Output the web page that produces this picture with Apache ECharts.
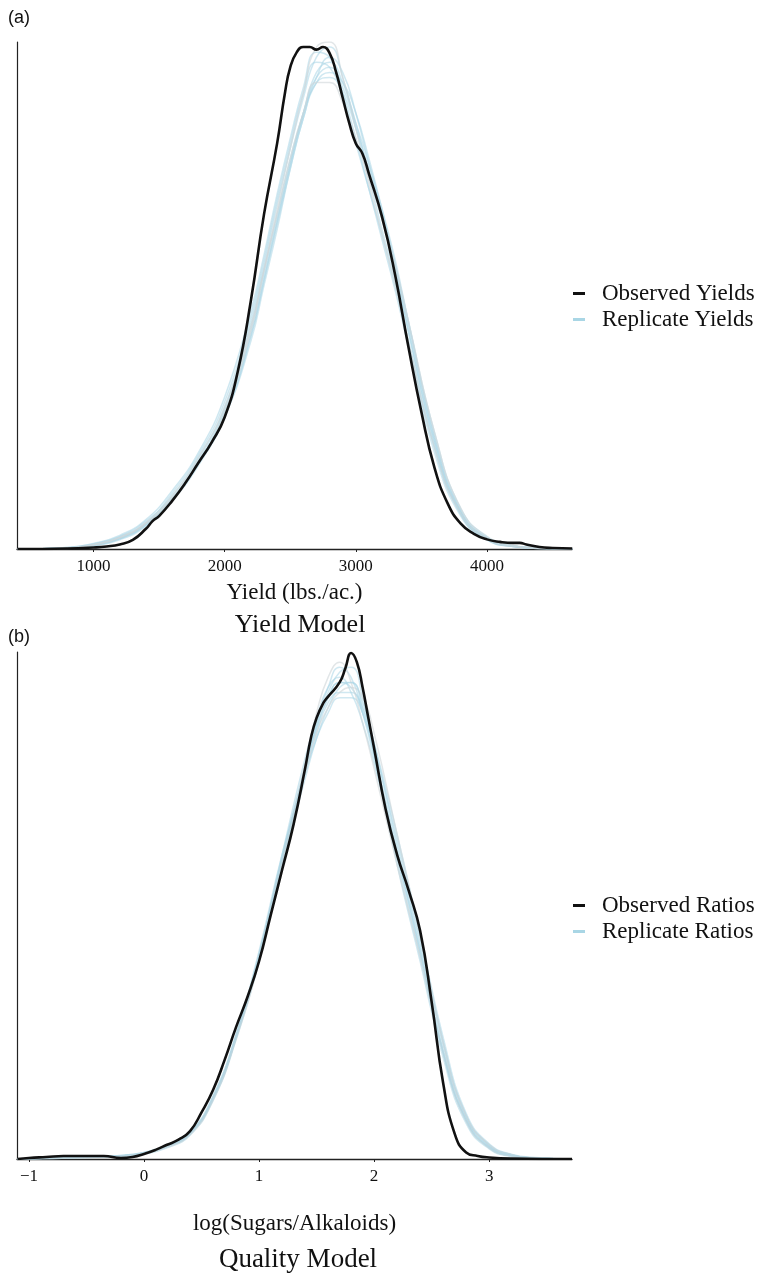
<!DOCTYPE html>
<html>
<head>
<meta charset="utf-8">
<script src="https://cdn.jsdelivr.net/npm/echarts@6/dist/echarts.min.js"></script>
<style>
  html, body { margin: 0; padding: 0; background: #ffffff; }
  #chart { width: 763px; height: 1274px; }
</style>
</head>
<body>
<div id="chart"></div>
<script>
// ---- Panel (a): yield densities (relative density, 1 = top of panel) ----
const yieldObsX = [420, 800, 1000, 1100, 1200, 1300, 1400, 1450, 1500, 1600, 1700, 1800, 1900, 2000,
  2100, 2200, 2300, 2400, 2460, 2500, 2550, 2600, 2650, 2700, 2750, 2800, 2850, 2900, 2950, 3000,
  3050, 3100, 3200, 3300, 3400, 3500, 3600, 3700, 3800, 3900, 4000, 4100, 4200, 4250, 4300, 4400, 4500, 4650];
const yieldObsY = [0, 0.001, 0.003, 0.005, 0.009, 0.018, 0.04, 0.055, 0.065, 0.095, 0.13, 0.17, 0.21, 0.26,
  0.35, 0.49, 0.66, 0.80, 0.90, 0.95, 0.98, 0.99, 0.99, 0.985, 0.99, 0.978, 0.94, 0.89, 0.84, 0.80,
  0.78, 0.74, 0.655, 0.54, 0.40, 0.27, 0.16, 0.09, 0.05, 0.03, 0.019, 0.014, 0.012, 0.012, 0.009, 0.004, 0.002, 0.001];

const yieldRepX = [420, 800, 1000, 1200, 1400, 1600, 1800, 2000, 2200, 2300, 2400, 2500, 2600, 2700,
  2800, 2900, 3000, 3100, 3200, 3300, 3400, 3600, 3800, 4000, 4200, 4400, 4650];
const yieldRep1  = [0, 0.002, 0.008, 0.022, 0.05, 0.10, 0.17, 0.27, 0.43, 0.54, 0.65, 0.76, 0.86, 0.94, 0.96, 0.92, 0.84, 0.74, 0.65, 0.55, 0.43, 0.21, 0.07, 0.02, 0.006, 0.002, 0];
const yieldRep2  = [0, 0.003, 0.010, 0.025, 0.055, 0.105, 0.18, 0.28, 0.45, 0.56, 0.68, 0.79, 0.89, 0.97, 0.99, 0.93, 0.83, 0.73, 0.63, 0.53, 0.41, 0.20, 0.07, 0.02, 0.005, 0.001, 0];
const yieldRep3  = [0, 0.001, 0.006, 0.018, 0.045, 0.095, 0.165, 0.26, 0.41, 0.52, 0.63, 0.75, 0.85, 0.92, 0.93, 0.90, 0.83, 0.75, 0.66, 0.56, 0.45, 0.23, 0.08, 0.025, 0.007, 0.002, 0];
const yieldRep4  = [0, 0.002, 0.009, 0.024, 0.052, 0.11, 0.185, 0.29, 0.46, 0.57, 0.69, 0.80, 0.90, 0.96, 0.95, 0.89, 0.80, 0.71, 0.62, 0.52, 0.41, 0.20, 0.068, 0.018, 0.005, 0.001, 0];
const yieldRep5  = [0, 0.002, 0.007, 0.02, 0.048, 0.098, 0.17, 0.265, 0.42, 0.53, 0.64, 0.75, 0.85, 0.92, 0.94, 0.92, 0.86, 0.77, 0.67, 0.56, 0.44, 0.22, 0.075, 0.022, 0.006, 0.002, 0];
const yieldRep6  = [0, 0.003, 0.011, 0.027, 0.058, 0.115, 0.19, 0.30, 0.47, 0.58, 0.70, 0.81, 0.91, 0.98, 0.97, 0.90, 0.81, 0.71, 0.61, 0.51, 0.40, 0.19, 0.065, 0.018, 0.005, 0.001, 0];
const yieldRep7  = [0, 0.002, 0.008, 0.021, 0.05, 0.10, 0.175, 0.275, 0.44, 0.55, 0.66, 0.77, 0.86, 0.93, 0.97, 0.94, 0.86, 0.76, 0.66, 0.55, 0.43, 0.21, 0.072, 0.02, 0.006, 0.002, 0];
const yieldRep8  = [0, 0.001, 0.007, 0.02, 0.047, 0.097, 0.168, 0.26, 0.42, 0.53, 0.645, 0.76, 0.86, 0.93, 0.95, 0.91, 0.84, 0.76, 0.67, 0.57, 0.45, 0.22, 0.075, 0.022, 0.006, 0.002, 0];
const yieldRep9  = [0, 0.002, 0.009, 0.023, 0.052, 0.105, 0.18, 0.28, 0.44, 0.55, 0.66, 0.77, 0.86, 0.92, 0.92, 0.88, 0.81, 0.73, 0.65, 0.56, 0.45, 0.23, 0.08, 0.024, 0.007, 0.002, 0];
const yieldRep10 = [0, 0.002, 0.008, 0.022, 0.05, 0.10, 0.17, 0.27, 0.43, 0.55, 0.67, 0.79, 0.90, 0.99, 1.0, 0.93, 0.83, 0.72, 0.62, 0.52, 0.41, 0.20, 0.07, 0.02, 0.005, 0.001, 0];

// ---- Panel (b): log(Sugars/Alkaloids) densities ----
const ratioObsX = [-1.1, -1.0, -0.85, -0.7, -0.5, -0.35, -0.2, -0.1, 0, 0.1, 0.2, 0.3, 0.4, 0.5, 0.6, 0.7,
  0.8, 0.9, 1.0, 1.1, 1.2, 1.3, 1.4, 1.45, 1.5, 1.56, 1.6, 1.7, 1.75, 1.8, 1.85, 1.9, 1.95, 2.0, 2.1,
  2.2, 2.3, 2.4, 2.5, 2.6, 2.7, 2.8, 2.9, 3.0, 3.2, 3.72];
const ratioObsY = [0, 0.002, 0.004, 0.006, 0.006, 0.006, 0.002, 0.004, 0.010, 0.018, 0.028, 0.038, 0.055, 0.092,
  0.136, 0.195, 0.26, 0.32, 0.39, 0.48, 0.57, 0.66, 0.77, 0.83, 0.87, 0.90, 0.912, 0.94, 0.968, 0.998, 0.98, 0.93,
  0.87, 0.81, 0.69, 0.60, 0.53, 0.45, 0.31, 0.15, 0.05, 0.013, 0.006, 0.003, 0.001, 0];

const ratioRepX = [-1.1, -0.8, -0.5, -0.2, 0, 0.2, 0.4, 0.6, 0.8, 1.0, 1.2, 1.4, 1.5, 1.6, 1.7, 1.8, 1.9,
  2.0, 2.2, 2.4, 2.6, 2.8, 3.0, 3.2, 3.4, 3.72];
const ratioRep1  = [0, 0.002, 0.004, 0.006, 0.012, 0.025, 0.05, 0.12, 0.24, 0.40, 0.59, 0.77, 0.85, 0.91, 0.94, 0.93, 0.88, 0.80, 0.61, 0.42, 0.22, 0.08, 0.025, 0.007, 0.002, 0];
const ratioRep2  = [0, 0.001, 0.003, 0.005, 0.010, 0.022, 0.047, 0.115, 0.235, 0.39, 0.58, 0.77, 0.86, 0.93, 0.97, 0.95, 0.88, 0.79, 0.59, 0.40, 0.21, 0.075, 0.022, 0.006, 0.002, 0];
const ratioRep3  = [0, 0.002, 0.005, 0.007, 0.013, 0.027, 0.053, 0.125, 0.245, 0.41, 0.60, 0.76, 0.83, 0.88, 0.91, 0.91, 0.88, 0.81, 0.63, 0.44, 0.24, 0.09, 0.03, 0.009, 0.003, 0];
const ratioRep4  = [0, 0.002, 0.004, 0.006, 0.011, 0.024, 0.05, 0.12, 0.24, 0.40, 0.60, 0.79, 0.87, 0.93, 0.95, 0.92, 0.86, 0.78, 0.60, 0.41, 0.21, 0.075, 0.022, 0.006, 0.002, 0];
const ratioRep5  = [0, 0.001, 0.003, 0.006, 0.012, 0.026, 0.052, 0.118, 0.238, 0.395, 0.58, 0.75, 0.83, 0.89, 0.93, 0.94, 0.90, 0.82, 0.62, 0.43, 0.23, 0.085, 0.027, 0.008, 0.002, 0];
const ratioRep6  = [0, 0.002, 0.004, 0.006, 0.012, 0.025, 0.051, 0.122, 0.245, 0.405, 0.595, 0.775, 0.86, 0.92, 0.96, 0.97, 0.91, 0.80, 0.58, 0.39, 0.20, 0.07, 0.02, 0.005, 0.001, 0];
const ratioRep7  = [0, 0.002, 0.004, 0.007, 0.013, 0.026, 0.05, 0.118, 0.24, 0.40, 0.59, 0.76, 0.84, 0.90, 0.92, 0.92, 0.89, 0.82, 0.64, 0.44, 0.23, 0.085, 0.028, 0.008, 0.002, 0];
const ratioRep8  = [0, 0.001, 0.003, 0.005, 0.011, 0.023, 0.048, 0.116, 0.236, 0.39, 0.585, 0.78, 0.88, 0.95, 0.98, 0.94, 0.86, 0.77, 0.58, 0.40, 0.21, 0.075, 0.022, 0.006, 0.002, 0];
const ratioRep9  = [0, 0.002, 0.004, 0.006, 0.012, 0.025, 0.05, 0.12, 0.24, 0.40, 0.59, 0.76, 0.84, 0.89, 0.92, 0.93, 0.91, 0.84, 0.64, 0.44, 0.23, 0.085, 0.028, 0.008, 0.002, 0];
const ratioRep10 = [0, 0.002, 0.004, 0.006, 0.012, 0.025, 0.05, 0.12, 0.24, 0.40, 0.59, 0.77, 0.85, 0.91, 0.94, 0.94, 0.89, 0.80, 0.60, 0.41, 0.21, 0.078, 0.024, 0.007, 0.002, 0];

// ---- Axis ticks ----
const yieldTicks = [1000, 2000, 3000, 4000];
const ratioTicks = [-1, 0, 1, 2, 3];

const yieldReps = [yieldRep1, yieldRep2, yieldRep3, yieldRep4, yieldRep5, yieldRep6, yieldRep7, yieldRep8, yieldRep9, yieldRep10];
const ratioReps = [ratioRep1, ratioRep2, ratioRep3, ratioRep4, ratioRep5, ratioRep6, ratioRep7, ratioRep8, ratioRep9, ratioRep10];
// a few replicate draws come out greyish rather than blue
const greyYield = [8, 9];
const greyRatio = [7, 8];

const SERIF = '"Liberation Serif", "Times New Roman", serif';
const SANS = '"Liberation Sans", Arial, sans-serif';
const BLUE = '#a9d6e5';
const BLACK = '#111111';

const zip = (xs, ys) => xs.map((x, i) => [x, ys[i]]);

function replicateSeries(name, xs, reps, greys, axisIndex) {
  return reps.map((ys, i) => ({
    name: name,
    type: 'line',
    xAxisIndex: axisIndex,
    yAxisIndex: axisIndex,
    data: zip(xs, ys),
    smooth: true,
    showSymbol: false,
    silent: true,
    color: BLUE,
    lineStyle: {
      color: greys.includes(i) ? '#cfd6d8' : BLUE,
      width: 1.5,
      opacity: greys.includes(i) ? 0.6 : 0.55
    },
    z: 2
  }));
}

function observedSeries(name, xs, ys, axisIndex) {
  return {
    name: name,
    type: 'line',
    xAxisIndex: axisIndex,
    yAxisIndex: axisIndex,
    data: zip(xs, ys),
    smooth: true,
    showSymbol: false,
    silent: true,
    color: BLACK,
    lineStyle: { color: BLACK, width: 2.6 },
    z: 3
  };
}

function xAxisDef(gridIndex, min, max, ticks, name, nameGap) {
  return {
    type: 'value',
    gridIndex: gridIndex,
    min: min,
    max: max,
    name: name,
    nameLocation: 'middle',
    nameGap: nameGap,
    nameTextStyle: { fontFamily: SERIF, fontSize: 23, color: '#111' },
    axisLine: { show: true, onZero: false, lineStyle: { color: '#222', width: 1.3 } },
    axisTick: { show: true, length: 3, customValues: ticks, lineStyle: { color: '#222' } },
    axisLabel: {
      customValues: ticks,
      margin: 9,
      fontFamily: SERIF,
      fontSize: 17,
      color: '#111',
      formatter: v => String(v).replace('-', '\u2212')
    },
    splitLine: { show: false }
  };
}

function yAxisDef(gridIndex) {
  return {
    type: 'value',
    gridIndex: gridIndex,
    min: 0,
    max: 1,
    axisLine: { show: true, onZero: false, lineStyle: { color: '#222', width: 1.2 } },
    axisTick: { show: false },
    axisLabel: { show: false },
    splitLine: { show: false }
  };
}

function legendDef(top, names) {
  return {
    orient: 'vertical',
    left: 568,
    top: top,
    itemWidth: 12,
    itemHeight: 3,
    itemGap: 3,
    icon: 'rect',
    selectedMode: false,
    data: names,
    textStyle: { fontFamily: SERIF, fontSize: 23, color: '#111', padding: [0, 0, 0, 12] }
  };
}

const chart = echarts.init(document.getElementById('chart'), null, { renderer: 'canvas' });

chart.setOption({
  animation: false,
  backgroundColor: '#ffffff',
  title: [
    { text: '(a)', left: 3, top: 4, textStyle: { fontFamily: SANS, fontSize: 18, fontWeight: 'normal', color: '#111' } },
    { text: 'Yield Model', left: 295, textAlign: 'center', top: 607, textStyle: { fontFamily: SERIF, fontSize: 26, fontWeight: 'normal', color: '#111' } },
    { text: '(b)', left: 3, top: 623, textStyle: { fontFamily: SANS, fontSize: 18, fontWeight: 'normal', color: '#111' } },
    { text: 'Quality Model', left: 293, textAlign: 'center', top: 1241, textStyle: { fontFamily: SERIF, fontSize: 27, fontWeight: 'normal', color: '#111' } }
  ],
  legend: [
    legendDef(277, ['Observed Yields', 'Replicate Yields']),
    legendDef(889, ['Observed Ratios', 'Replicate Ratios'])
  ],
  grid: [
    { left: 17, top: 42, width: 555, height: 507 },
    { left: 17, top: 652, width: 555, height: 507 }
  ],
  xAxis: [
    xAxisDef(0, 417, 4648, yieldTicks, 'Yield (lbs./ac.)', 32),
    xAxisDef(1, -1.104, 3.72, ratioTicks, 'log(Sugars/Alkaloids)', 53)
  ],
  yAxis: [yAxisDef(0), yAxisDef(1)],
  series: [
    ...replicateSeries('Replicate Yields', yieldRepX, yieldReps, greyYield, 0),
    observedSeries('Observed Yields', yieldObsX, yieldObsY, 0),
    ...replicateSeries('Replicate Ratios', ratioRepX, ratioReps, greyRatio, 1),
    observedSeries('Observed Ratios', ratioObsX, ratioObsY, 1)
  ]
});
</script>
</body>
</html>
